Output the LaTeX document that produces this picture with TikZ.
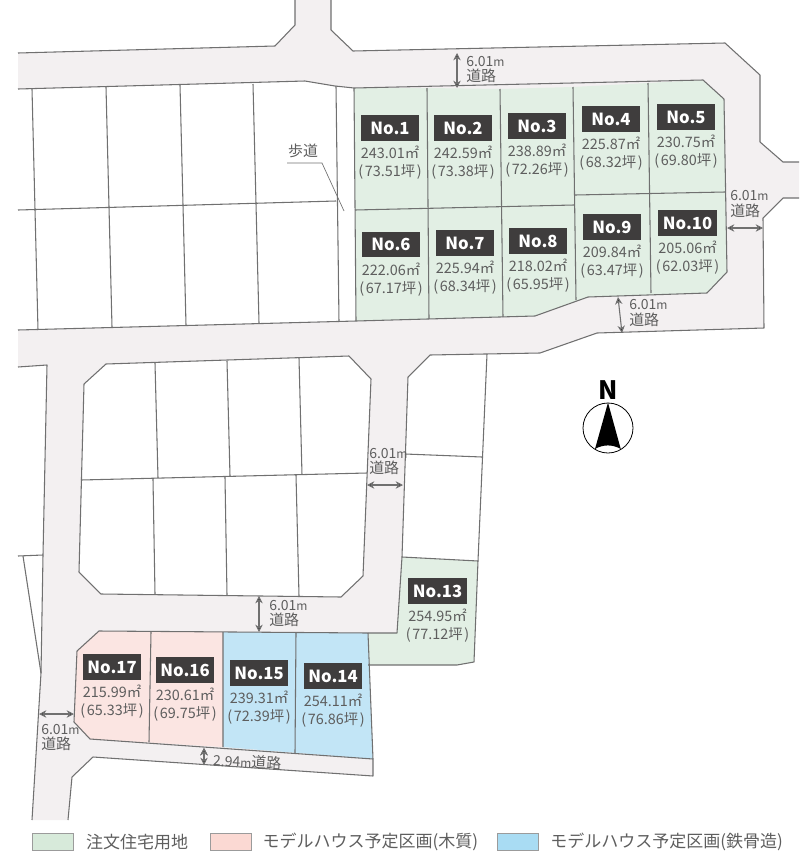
\documentclass[tikz,border=0pt]{standalone}
\usepackage{fontspec}
\setmainfont{Noto Sans CJK JP}
\usepackage{tikz}
\usetikzlibrary{positioning,arrows.meta}
\definecolor{roadgray}{HTML}{F3F0F1}
\definecolor{linegray}{HTML}{707070}
\definecolor{textgray}{HTML}{5E5E5E}
\definecolor{boxdark}{HTML}{3F3D3D}
\definecolor{lotgreen}{HTML}{E2EFE4}
\definecolor{lotpink}{HTML}{FBE5E2}
\definecolor{lotblue}{HTML}{C2E5F6}
\definecolor{keygreen}{HTML}{D7EADA}
\definecolor{keypink}{HTML}{FBD9D3}
\definecolor{keyblue}{HTML}{A9DCF3}
\tikzset{
  lotline/.style={draw=linegray,line width=0.8pt,line join=round},
  lotbox/.style={fill=boxdark,text=white,font=\fontsize{12.5}{14}\selectfont\bfseries,minimum width=43.8pt,minimum height=19.2pt,inner sep=0pt},
  lotarea/.style={text=textgray,font=\fontsize{10.8}{13.5}\selectfont,align=center,inner sep=0pt},
  dimlabel/.style={text=textgray,font=\fontsize{11.2}{11.3}\selectfont,align=left,inner sep=0pt},
  dimarrow/.style={draw=linegray,line width=0.8pt,{Stealth[length=5.5pt,width=5.5pt]}-{Stealth[length=5.5pt,width=5.5pt]}},
  keybox/.style={draw=linegray!70,line width=0.8pt,minimum width=30.5pt,minimum height=13pt,inner sep=0pt,anchor=west},
  keytext/.style={text=textgray,font=\fontsize{12.75}{14}\selectfont,inner sep=0pt,anchor=west},
}
\newcommand{\smallm}{{\fontsize{9}{9}\selectfont m}}
\newcommand{\sixm}{{\fontsize{10.5}{11}\selectfont 6.01}\smallm}
\newcommand{\tsubo}[1]{(\kern1.2pt #1坪\kern1.2pt)}
\begin{document}
\begin{tikzpicture}[x=0.75pt,y=-0.75pt]
            \useasboundingbox (0,0) rectangle (800,857);
            % roads
            \fill[roadgray] (18,53) -- (275,46) -- (295,25) -- (295,0) -- (331,0) -- (331,30) -- (353,51)
                -- (725,43) -- (760,75) -- (760,142) -- (783,162) -- (799,162) -- (799,198) -- (783,198)
                -- (763,218) -- (764,328) -- (597,333) -- (540,353) -- (430,355) -- (408,377) -- (402,557)
                -- (397,633) -- (368,633) -- (373,759) -- (373,776) -- (93,757) -- (72,777) -- (68,820)
                -- (32,820) -- (41,673) -- (43,555) -- (47,365) -- (18,367) -- (18,330) -- (356,321)
                -- (354,88) -- (335,86) -- (305,81) -- (18,89) -- cycle;
            \draw[lotline,fill=white] (106,364) -- (349,356) -- (371,379) -- (363,576) -- (341,597)
                -- (101,594) -- (79,572) -- (84,384) -- cycle;
            % lots
            \fill[lotgreen] (354,88) -- (427,88) -- (500,89) -- (573,87) -- (648,83) -- (703,80) -- (724,99)
                -- (727,272) -- (707,293) -- (588,297) -- (535,316) -- (356,321) -- cycle;
            \fill[lotgreen] (402,557) -- (478,561) -- (474,662) -- (457,665) -- (368,665) -- (368,633) -- (397,633) -- cycle;
            \fill[lotpink] (99,631) -- (223,632) -- (223,747) -- (90,739) -- (74,722) -- (77,651) -- cycle;
            \fill[lotblue] (223,632) -- (368,633) -- (373,759) -- (223,747) -- cycle;
            % road edges
            \draw[lotline] (18,53) -- (275,46) -- (295,25) -- (295,0);
            \draw[lotline] (331,0) -- (331,30) -- (353,51) -- (725,43) -- (760,75) -- (760,142) -- (783,162) -- (799,162);
            \draw[lotline] (799,198) -- (783,198) -- (763,218) -- (764,328) -- (597,333) -- (540,353) -- (430,355)
                -- (408,377) -- (402,557) -- (397,633) -- (368,633) -- (99,631) -- (77,651) -- (74,722) -- (90,739) -- (373,759);
            \draw[lotline] (373,759) -- (373,776) -- (93,757) -- (72,777) -- (68,820);
            \draw[lotline] (32,820) -- (41,673) -- (43,555) -- (47,365) -- (18,367);
            \draw[lotline] (18,330) -- (356,321) -- (535,316) -- (588,297) -- (707,293) -- (727,272) -- (724,99) -- (703,80)
                -- (354,88) -- (335,86) -- (305,81) -- (18,89);
            % lot divisions
            \draw[lotline] (354,88) -- (356,321);
            \draw[lotline] (427,88) -- (429,319) (500,89) -- (503,317) (573,87) -- (576,300) (648,83) -- (651,293);
            \draw[lotline] (355,210) -- (574,205) (575,195) -- (725,192);
            \draw[lotline] (368,633) -- (373,759) (151,632) -- (149,742) (223,632) -- (223,747) (296,633) -- (295,753);
            \draw[lotline] (402,557) -- (478,561) -- (474,662) -- (457,665) -- (368,665);
            \draw[lotline] (487,354) -- (478,561) (405,454) -- (482,457);
            \draw[lotline] (18,556) -- (43,555) (23,556) -- (41,673);
            \draw[lotline] (32,89) -- (38,330) (106,87) -- (112,327) (180,85) -- (186,325) (253,84) -- (259,323)
                (336,86) -- (339,322) (18,210) -- (336,201);
            \draw[lotline] (81,480) -- (367,473) (155,363) -- (158,478) (227,361) -- (230,476) (299,358) -- (302,475)
                (153,479) -- (155,594) (225,477) -- (227,595) (296,475) -- (299,596);
            % lot labels
            \node[lotbox] (no1) at (390,128) {No.1};
            \node[lotarea,below=3.5pt of no1] (a1) {243.01㎡\\\tsubo{73.51}};
            \node[lotbox] (no2) at (463,128) {No.2};
            \node[lotarea,below=3.5pt of no2] (a2) {242.59㎡\\\tsubo{73.38}};
            \node[lotbox] (no3) at (537,126) {No.3};
            \node[lotarea,below=3.5pt of no3] (a3) {238.89㎡\\\tsubo{72.26}};
            \node[lotbox] (no4) at (611,119) {No.4};
            \node[lotarea,below=3.5pt of no4] (a4) {225.87㎡\\\tsubo{68.32}};
            \node[lotbox] (no5) at (686,117) {No.5};
            \node[lotarea,below=3.5pt of no5] (a5) {230.75㎡\\\tsubo{69.80}};
            \node[lotbox] (no6) at (391,244.5) {No.6};
            \node[lotarea,below=3.5pt of no6] (a6) {222.06㎡\\\tsubo{67.17}};
            \node[lotbox] (no7) at (465,243) {No.7};
            \node[lotarea,below=3.5pt of no7] (a7) {225.94㎡\\\tsubo{68.34}};
            \node[lotbox] (no8) at (538,241) {No.8};
            \node[lotarea,below=3.5pt of no8] (a8) {218.02㎡\\\tsubo{65.95}};
            \node[lotbox] (no9) at (612,227) {No.9};
            \node[lotarea,below=3.5pt of no9] (a9) {209.84㎡\\\tsubo{63.47}};
            \node[lotbox] (no10) at (687.5,223) {No.10};
            \node[lotarea,below=3.5pt of no10] (a10) {205.06㎡\\\tsubo{62.03}};
            \node[lotbox] (no13) at (437.5,591) {No.13};
            \node[lotarea,below=3.5pt of no13] (a13) {254.95㎡\\\tsubo{77.12}};
            \node[lotbox] (no14) at (333,676) {No.14};
            \node[lotarea,below=3.5pt of no14] (a14) {254.11㎡\\\tsubo{76.86}};
            \node[lotbox] (no15) at (259,673) {No.15};
            \node[lotarea,below=3.5pt of no15] (a15) {239.31㎡\\\tsubo{72.39}};
            \node[lotbox] (no16) at (185,670) {No.16};
            \node[lotarea,below=3.5pt of no16] (a16) {230.61㎡\\\tsubo{69.75}};
            \node[lotbox] (no17) at (112,667) {No.17};
            \node[lotarea,below=3.5pt of no17] (a17) {215.99㎡\\\tsubo{65.33}};
            % road widths
            \coordinate (d1a) at (457,53);
            \coordinate (d1b) at (457,88);
            \coordinate (d2a) at (727,228);
            \coordinate (d2b) at (763,228);
            \coordinate (d3a) at (618,297);
            \coordinate (d3b) at (622,333);
            \coordinate (d4a) at (367,485);
            \coordinate (d4b) at (403,485);
            \coordinate (d5a) at (259,596);
            \coordinate (d5b) at (259,632);
            \coordinate (d6a) at (39,714);
            \coordinate (d6b) at (74,714);
            \coordinate (d7a) at (204,748);
            \coordinate (d7b) at (204,765);
            \path[dimarrow] (d1a) edge (d1b)
                            (d2a) edge (d2b)
                            (d3a) edge (d3b)
                            (d4a) edge (d4b)
                            (d5a) edge (d5b)
                            (d6a) edge (d6b)
                            (d7a) edge (d7b);
            \node[dimlabel,anchor=west] (r1) at (466,69.5) {\sixm\\道路};
            \node[dimlabel,anchor=west] (r2) at (730,204) {\sixm\\道路};
            \node[dimlabel,anchor=west] (r3) at (629,313) {\sixm\\道路};
            \node[dimlabel,anchor=west] (r4) at (369,461.5) {\sixm\\道路};
            \node[dimlabel,anchor=west] (r5) at (269,613.5) {\sixm\\道路};
            \node[dimlabel,anchor=west] (r6) at (41,737.5) {\sixm\\道路};
            \node[dimlabel,anchor=west,rotate=-3] (r7) at (213,760) {{\fontsize{10.5}{11}\selectfont 2.94}\smallm 道路};
            % sidewalk
            \node[dimlabel] (walk) at (303,151) {歩道};
            \coordinate (w1) at (287,163);
            \coordinate (w2) at (322,163);
            \coordinate (w3) at (344,211);
            \draw[draw=linegray,line width=0.5pt] (w1) -- (w2) -- (w3);
            % north
            \node[font=\fontsize{19}{19}\selectfont\bfseries,inner sep=0pt] (north) at (608,390) {N};
            \node[circle,draw,line width=0.6pt,minimum size=37.5pt,inner sep=0pt] (dial) at (608,428) {};
            \fill (dial.90) -- (595,449) arc[start angle=239,end angle=301,radius=25] -- cycle;
            % legend
            \node[keybox,fill=keygreen] (k1) at (32,842) {};
            \node[keytext,right=9pt of k1] (t1) {注文住宅用地};
            \node[keybox,fill=keypink] (k2) at (210,842) {};
            \node[keytext,right=8pt of k2] (t2) {モデルハウス予定区画(木質)};
            \node[keybox,fill=keyblue] (k3) at (497,842) {};
            \node[keytext,right=8.5pt of k3] (t3) {モデルハウス予定区画(鉄骨造)};
        \end{tikzpicture}
\end{document}
